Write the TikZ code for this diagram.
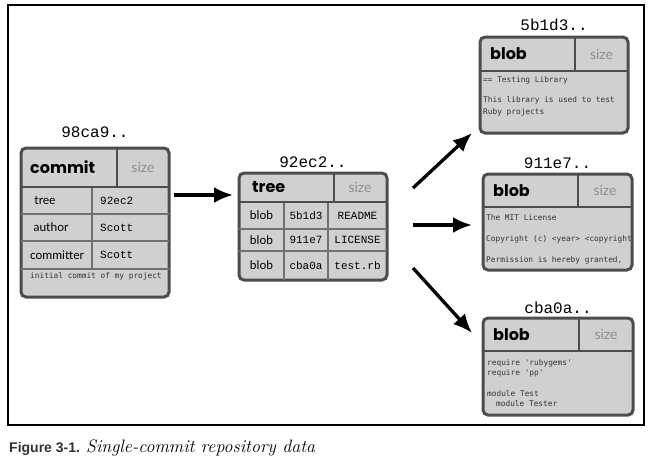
\documentclass[tikz,border=0pt]{standalone}
\usepackage{fontspec}
\usetikzlibrary{arrows.meta,positioning}
\newfontfamily\headfont{Poppins}
\newfontfamily\labelfont{Lato}
\newfontfamily\hashfont{Liberation Mono}
\newfontfamily\notefont{DejaVu Sans Mono}
\newfontfamily\capfont{Liberation Sans}
\definecolor{boxfill}{HTML}{D0D0D0}
\definecolor{boxedge}{HTML}{4D4D4D}
\definecolor{rulegray}{HTML}{707070}
\definecolor{sizegray}{HTML}{8E8E8E}
\definecolor{notegray}{HTML}{333333}
\begin{document}
\begin{tikzpicture}[x=1pt, y=-1pt,
  objbox/.style={draw=boxedge, fill=boxfill, line width=3pt, rounded corners=5pt,
    anchor=north west, inner sep=0pt, outer sep=0pt},
  headrule/.style={draw=boxedge, line width=2pt},
  rowrule/.style={draw=rulegray, line width=1.2pt},
  hash/.style={font=\hashfont\fontsize{16}{16}\selectfont, inner sep=0pt},
  kind/.style={font=\headfont\bfseries\fontsize{16}{16}\selectfont, anchor=west, inner sep=0pt},
  sizetag/.style={font=\labelfont\fontsize{14}{14}\selectfont, text=sizegray, inner sep=0pt},
  field/.style={font=\labelfont\fontsize{12}{12}\selectfont, inner sep=0pt},
  val/.style={font=\hashfont\fontsize{11}{11}\selectfont, inner sep=0pt},
  note/.style={font=\notefont\fontsize{7.8}{12}\selectfont, text=notegray,
    anchor=north west, align=left, inner sep=0pt},
  arr/.style={-{Latex[length=19pt,width=16pt]}, line width=3.3pt},
]
  \useasboundingbox (0,0) rectangle (655,467);
  \draw[line width=1.4pt] (8,5) rectangle (644,425);

  % commit
  \begin{scope}[shift={(21,148)}]
      \node[objbox, minimum width=148pt, minimum height=149pt] (commit) at (0,0) {};
      \draw[rowrule] (0,66) -- (148,66) (0,93) -- (148,93) (0,121) -- (148,121);
      \draw[rowrule] (71,39) -- (71,121);
      \draw[headrule] (0,39) -- (148,39) (96,0) -- (96,39);
      \node[kind] (commitkind) at (9,19) {commit};
      \node[sizetag] (commitsize) at (122,19) {size};
      \node[field] (ctree) at (24,52.5) {tree};
      \node[field] (cauthor) at (30,79.5) {author};
      \node[field] (ccommitter) at (36,107) {committer};
      \node[val, anchor=west] (ctreeval) at (79,52.5) {92ec2};
      \node[val, anchor=west] (cauthorval) at (79,79.5) {Scott};
      \node[val, anchor=west] (ccommitterval) at (79,107) {Scott};
      \node[note, anchor=west] (cmsg) at (9,128) {initial commit of my project};
  \end{scope}
  \node[hash, above=10pt of commit] (commitid) {98ca9..};

  % tree
  \begin{scope}[shift={(239,173)}]
      \node[objbox, minimum width=148pt, minimum height=107pt] (tree) at (0,0) {};
      \draw[rowrule] (0,56) -- (148,56) (0,78) -- (148,78);
      \draw[rowrule] (45,29) -- (45,107) (89,29) -- (89,107);
      \draw[headrule] (0,29) -- (148,29) (95,0) -- (95,29);
      \node[kind] (treekind) at (13,14.5) {tree};
      \node[sizetag] (treesize) at (121,14.5) {size};
      \node[field] (tkind1) at (22.5,42.5) {blob};
      \node[field] (tkind2) at (22.5,67) {blob};
      \node[field] (tkind3) at (22.5,92.5) {blob};
      \node[val] (tsha1) at (67,42.5) {5b1d3};
      \node[val] (tsha2) at (67,67) {911e7};
      \node[val] (tsha3) at (67,92.5) {cba0a};
      \node[val] (tname1) at (118.5,42.5) {README};
      \node[val] (tname2) at (118.5,67) {LICENSE};
      \node[val] (tname3) at (118.5,92.5) {test.rb};
  \end{scope}
  \node[hash, above=5pt of tree] (treeid) {92ec2..};

  % blob README
  \begin{scope}[shift={(480,37)}]
      \node[objbox, minimum width=148pt, minimum height=96pt] (blobA) at (0,0) {};
      \draw[headrule] (0,34) -- (148,34) (95,0) -- (95,34);
      \node[kind] (blobAkind) at (10,17) {blob};
      \node[sizetag] (blobAsize) at (121.5,17) {size};
      \node[note] (blobAtext) at (3,39) {== Testing Library\\[8pt]This library is used to test\\Ruby projects};
  \end{scope}
  \node[hash, above=6pt of blobA] (blobAid) {5b1d3..};

  % blob LICENSE
  \begin{scope}[shift={(483,174)}]
      \node[objbox, minimum width=149pt, minimum height=96pt] (blobB) at (0,0) {};
      \draw[headrule] (0,33) -- (149,33) (95,0) -- (95,33);
      \begin{scope}
          \clip (0,0) rectangle (147,96);
          \node[note] (blobBtext) at (3,40) {The MIT License\\[9pt]Copyright (c) <year> <copyright\\[9pt]Permission is hereby granted,};
      \end{scope}
      \node[kind] (blobBkind) at (10,16.5) {blob};
      \node[sizetag] (blobBsize) at (122,16.5) {size};
  \end{scope}
  \node[hash, above=5pt of blobB] (blobBid) {911e7..};

  % blob test.rb
  \begin{scope}[shift={(483,318)}]
      \node[objbox, minimum width=150pt, minimum height=97pt] (blobC) at (0,0) {};
      \draw[headrule] (0,33) -- (150,33) (96,0) -- (96,33);
      \node[kind] (blobCkind) at (10,16.5) {blob};
      \node[sizetag] (blobCsize) at (123,16.5) {size};
      \node[note, font=\notefont\fontsize{7.8}{10.5}\selectfont] (blobCtext) at (4,41)
        {require 'rubygems'\\require 'pp'\\[10pt]module Test\\\hspace*{9pt}module Tester};
  \end{scope}
  \node[hash, above=4pt of blobC] (blobCid) {cba0a..};

  % pointers
  \draw[arr] ([shift={(5,-27.5)}]commit.east) -- ([shift={(-6,-31.5)}]tree.west);
  \draw[arr] ([shift={(26,-38.5)}]tree.east) -- ([shift={(-8,0)}]blobA.south west);
  \draw[arr] ([shift={(26,-1.5)}]tree.east) -- ([shift={(-11,3)}]blobB.west);
  \draw[arr] ([shift={(26,41.5)}]tree.east) -- ([shift={(-11,15)}]blobC.north west);

  % caption
  \node[anchor=base west, inner sep=0pt] (caption) at (9,452)
    {{\capfont\bfseries\fontsize{14}{14}\selectfont\color{notegray}Figure 3-1.}\,
     {\itshape\fontsize{18}{18}\selectfont Single-commit repository data}};
\end{tikzpicture}
\end{document}
